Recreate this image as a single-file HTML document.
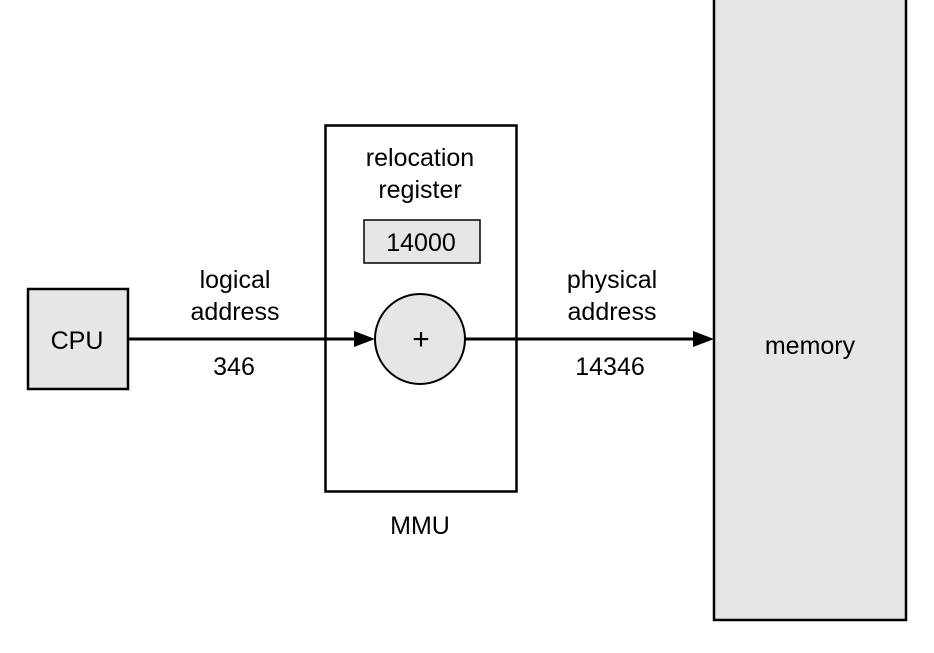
<!DOCTYPE html>
<html><head><style>html,body{margin:0;padding:0;background:#fff;}</style></head>
<body>
<svg width="934" height="648" viewBox="0 0 934 648" xmlns="http://www.w3.org/2000/svg" font-family="Liberation Sans, Arial, sans-serif" font-size="25" fill="#000">
<rect x="714" y="-3" width="192" height="623" fill="#e6e6e6" stroke="#000" stroke-width="2.5"/>
<rect x="325.5" y="125.5" width="191" height="366" fill="#fff" stroke="#000" stroke-width="2.5"/>
<rect x="28" y="289" width="100" height="100" fill="#e6e6e6" stroke="#000" stroke-width="2.5"/>
<rect x="364" y="220" width="116" height="43" fill="#e6e6e6" stroke="#000" stroke-width="1.5"/>
<circle cx="420" cy="339" r="45" fill="#e6e6e6" stroke="#000" stroke-width="2"/>
<line x1="128" y1="339" x2="360" y2="339" stroke="#000" stroke-width="3"/>
<polygon points="354,331 375,339 354,347" fill="#000"/>
<line x1="465" y1="339" x2="698" y2="339" stroke="#000" stroke-width="3"/>
<polygon points="693,331 714,339 693,347" fill="#000"/>
<g text-anchor="middle">
<text x="420" y="166">relocation</text>
<text x="420" y="198">register</text>
<text x="421" y="251">14000</text>
<text x="421" y="349" font-size="30">+</text>
<text x="77" y="349">CPU</text>
<text x="235" y="288">logical</text>
<text x="235" y="320">address</text>
<text x="234" y="375">346</text>
<text x="612" y="288">physical</text>
<text x="612" y="320">address</text>
<text x="610" y="375">14346</text>
<text x="810" y="354">memory</text>
<text x="420" y="534">MMU</text>
</g>
</svg>
</body></html>
